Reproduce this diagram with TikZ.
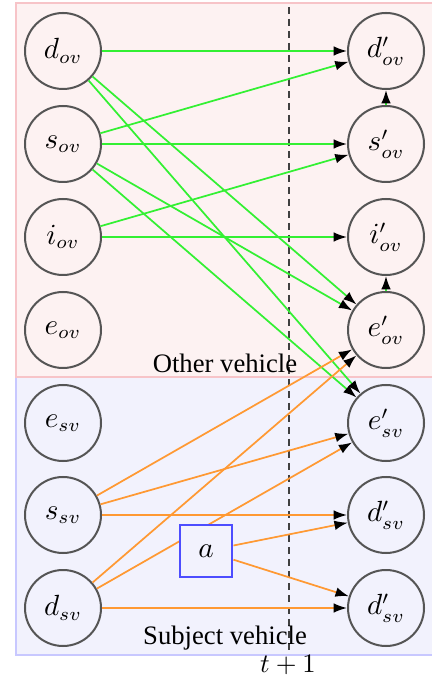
\documentclass[tikz,border=0pt]{standalone}
\usepackage[no-math]{fontspec}
\setmainfont{Liberation Serif}
\usetikzlibrary{arrows.meta}
\definecolor{bgpink}{HTML}{FDF2F2}
\definecolor{bdpink}{HTML}{F7C4C8}
\definecolor{bgblue}{HTML}{F2F2FD}
\definecolor{bdblue}{HTML}{C8C8FF}
\definecolor{edgegreen}{HTML}{33F033}
\definecolor{edgeorange}{HTML}{FF9933}
\definecolor{boxblue}{HTML}{4D4DFF}
\definecolor{ring}{HTML}{555555}
\tikzset{
  var/.style={circle, draw=ring, line width=0.75pt, minimum size=28.5pt, inner sep=0pt, font=\fontsize{10.5}{12}\selectfont},
  actbox/.style={rectangle, draw=boxblue, fill=bgblue, line width=0.8pt, minimum size=19.8pt, inner sep=0pt, font=\fontsize{10.5}{12}\selectfont},
  tip/.style={-{Latex[length=5pt,width=3.6pt,color=black]}},
  ovedge/.style={tip, draw=edgegreen, line width=0.65pt},
  svedge/.style={tip, draw=edgeorange, line width=0.65pt},
  caption/.style={font=\fontsize{10}{12}\selectfont, inner sep=0pt},
}
\begin{document}
\begin{tikzpicture}[x=0.375pt,y=-0.375pt]
\useasboundingbox (0,0) rectangle (431,682);
% backgrounds
\draw[draw=bdblue, fill=bgblue, line width=0.4pt] (16,375) rectangle (440,655);
\draw[draw=bdpink, fill=bgpink, line width=0.4pt] (16,3) rectangle (440,377);
% time divider
\draw[dash pattern=on 2.6pt off 1.9pt, draw=black!75, line width=0.45pt] (289,7) -- (289,653);
% captions
\node[caption] (ovcap) at (225,363) {Other vehicle};
\node[caption] (svcap) at (225,638) {Subject vehicle};
\node[caption] (tlab) at (288,665) {$t+1$};
% left nodes
\node[var] (dov) at (63,51) {$d_{ov}$};
\node[var] (sov) at (63,144) {$s_{ov}$};
\node[var] (iov) at (63,237) {$i_{ov}$};
\node[var] (eov) at (63,330) {$e_{ov}$};
\node[var] (esv) at (63,423) {$e_{sv}$};
\node[var] (ssv) at (63,515) {$s_{sv}$};
\node[var] (dsv) at (63,608) {$d_{sv}$};
% right nodes
\node[var] (dovp) at (386,51) {$d'_{ov}$};
\node[var] (sovp) at (386,144) {$s'_{ov}$};
\node[var] (iovp) at (386,237) {$i'_{ov}$};
\node[var] (eovp) at (386,330) {$e'_{ov}$};
\node[var] (esvp) at (386,423) {$e'_{sv}$};
\node[var] (dsvpa) at (386,515) {$d'_{sv}$};
\node[var] (dsvpb) at (386,608) {$d'_{sv}$};
% green edges
\draw[ovedge] (dov) -- (dovp);
\draw[ovedge] (dov) -- (eovp);
\draw[ovedge] (dov) -- (esvp);
\draw[ovedge] (sov) -- (dovp);
\draw[ovedge] (sov) -- (sovp);
\draw[ovedge] (sov) -- (eovp);
\draw[ovedge] (sov) -- (esvp);
\draw[ovedge] (iov) -- (sovp);
\draw[ovedge] (iov) -- (iovp);
\draw[ovedge] (sovp) -- (dovp);
\draw[ovedge] (eovp) -- (iovp);
% orange edges
\draw[svedge] (ssv) -- (eovp);
\draw[svedge] (ssv) -- (esvp);
\draw[svedge] (ssv) -- (dsvpa);
\draw[svedge] (dsv) -- (eovp);
\draw[svedge] (dsv) -- (esvp);
\draw[svedge] (dsv) -- (dsvpb);
% action box
\node[actbox] (act) at (206,551) {$a$};
\draw[svedge] (act) -- (dsvpa);
\draw[svedge] (act) -- (dsvpb);
\end{tikzpicture}
\end{document}
